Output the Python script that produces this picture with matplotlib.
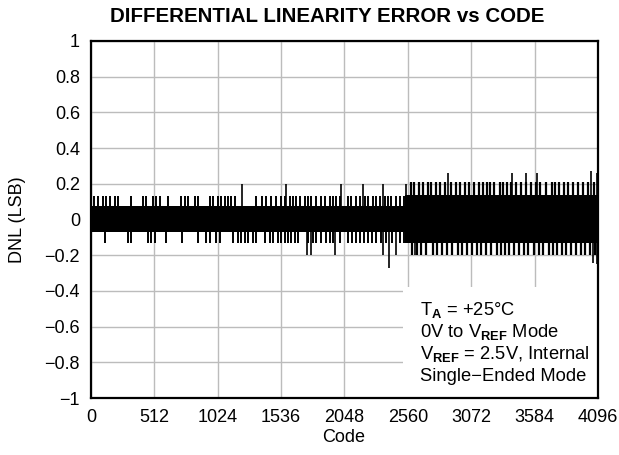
import matplotlib
matplotlib.use('Agg')
import matplotlib.pyplot as plt
from matplotlib.patches import Rectangle

plt.rcParams['font.family'] = ['Liberation Sans', 'DejaVu Sans']
plt.rcParams['mathtext.fontset'] = 'custom'
plt.rcParams['mathtext.rm'] = 'Liberation Sans'
plt.rcParams['mathtext.bf'] = 'Liberation Sans:bold'

# dense core of the DNL trace (two code ranges)
core_edges = [0, 2540, 4095]
core_hi = [0.078, 0.135]
core_lo = [-0.07, -0.13]

# codes 0..2540: spikes out of the core
small_up_codes = [24, 57, 97, 121, 153, 194, 218, 323, 420, 444, 501, 525, 557, 622,
                  727, 759, 784, 840, 864, 961, 986, 1026, 1050, 1083, 1107, 1131, 1163,
                  1333, 1382, 1414, 1454, 1495, 1535, 1567, 1608, 1632, 1656, 1689, 1729,
                  1753, 1777, 1818, 1858, 1890, 1931, 1955, 1979, 2012, 2076, 2101, 2141,
                  2173, 2214, 2238, 2278, 2303, 2335, 2375, 2399, 2424, 2464, 2496, 2529]
small_up_val = 0.13
small_dn_codes = [113, 299, 323, 461, 485, 517, 606, 735, 864, 929, 961, 1010, 1042,
                  1147, 1188, 1212, 1244, 1268, 1309, 1333, 1406, 1446, 1470, 1511, 1535,
                  1567, 1592, 1616, 1648, 1672, 1753, 1794, 1818, 1858, 1899, 1931, 1955,
                  2012, 2076, 2109, 2141, 2173, 2206, 2238, 2270, 2303, 2343, 2383, 2432,
                  2496, 2529]
small_dn_val = -0.13

# codes 2540..4095: spikes out of the wider core
big_up_codes = [2585, 2610, 2650, 2682, 2723, 2747, 2787, 2820, 2860, 2908, 2949, 2981,
                3022, 3054, 3094, 3135, 3167, 3199, 3224, 3256, 3304, 3329, 3361, 3393,
                3434, 3474, 3514, 3555, 3595, 3627, 3676, 3724, 3749, 3781, 3822, 3854,
                3894, 3935, 3975, 4015, 4064]
big_up_val = 0.21
big_dn_codes = [2593, 2634, 2666, 2706, 2763, 2795, 2836, 2876, 2917, 2965, 2997, 3038,
                3078, 3118, 3151, 3191, 3232, 3280, 3312, 3345, 3377, 3417, 3458, 3498,
                3530, 3579, 3619, 3652, 3700, 3733, 3765, 3805, 3838, 3878, 3918, 3959,
                3991, 4031, 4072]
big_dn_val = -0.2

# isolated tall spikes
tall_codes = [1220, 1575, 2020, 2197, 2359, 2545, 1745, 1777, 1971, 2359, 2464, 2618,
              2666, 2408, 2884, 3401, 3514, 3603, 4039, 4088, 4056, 4090]
tall_vals = [0.2, 0.2, 0.2, 0.2, 0.2, 0.2, -0.2, -0.2, -0.2, -0.2, -0.2, -0.2,
             -0.2, -0.27, 0.26, 0.26, 0.26, 0.26, 0.27, 0.26, -0.245, -0.25]

x_ticks = [0, 512, 1024, 1536, 2048, 2560, 3072, 3584, 4096]
y_ticks = [-1, -0.8, -0.6, -0.4, -0.2, 0, 0.2, 0.4, 0.6, 0.8, 1]
y_labels = ['\u22121', '\u22120.8', '\u22120.6', '\u22120.4', '\u22120.2', '0',
            '0.2', '0.4', '0.6', '0.8', '1']

fig = plt.figure(figsize=(6.19, 4.55), dpi=100)
ax = fig.add_axes([0.147, 0.125, 0.819, 0.785])

for i in range(len(core_hi)):
    ax.fill_between([core_edges[i], core_edges[i + 1]], core_lo[i], core_hi[i],
                    color='black', linewidth=0, zorder=3)

ax.vlines(small_up_codes, 0, small_up_val, color='black', lw=1.4, zorder=3)
ax.vlines(small_dn_codes, small_dn_val, 0, color='black', lw=1.4, zorder=3)
ax.vlines(big_up_codes, 0, big_up_val, color='black', lw=1.6, zorder=3)
ax.vlines(big_dn_codes, big_dn_val, 0, color='black', lw=1.6, zorder=3)
for c, v in zip(tall_codes, tall_vals):
    ax.vlines(c, min(0, v), max(0, v), color='black', lw=1.2, zorder=3)

ax.set_xlim(0, 4096)
ax.set_ylim(-1, 1)
ax.set_xticks(x_ticks)
ax.set_yticks(y_ticks)
ax.set_yticklabels(y_labels)
ax.tick_params(length=0, labelsize=13, pad=8)
ax.grid(True, color='#bcbcbc', lw=1)
ax.set_axisbelow(True)
for s in ax.spines.values():
    s.set_linewidth(1.6)
    s.set_zorder(6)

# white box behind the conditions text
ax.add_patch(Rectangle((2521, -1), 4096 - 2521, 1 - 0.378, facecolor='white',
                       edgecolor='none', zorder=4))
cond = [r'T$_{\mathbf{A}}$ = +25°C',
        r'0V to V$_{\mathbf{REF}}$ Mode',
        r'V$_{\mathbf{REF}}$ = 2.5V, Internal',
        'Single\u2212Ended Mode']
for i, t in enumerate(cond):
    ax.text(2655, -0.505 - i * 0.125, t, fontsize=13.2, va='center', ha='left', zorder=5)

fig.text(327 / 619, 1 - 16 / 455, 'DIFFERENTIAL LINEARITY ERROR vs CODE', fontsize=14.8,
         fontweight='bold', ha='center', va='center')
fig.text(344 / 619, 1 - 437 / 455, 'Code', fontsize=13, ha='center', va='center')
fig.text(18 / 619, 1 - 219.5 / 455, 'DNL (LSB)', fontsize=13, ha='center', va='center',
         rotation=90)

fig.savefig('out.png', dpi=100)
